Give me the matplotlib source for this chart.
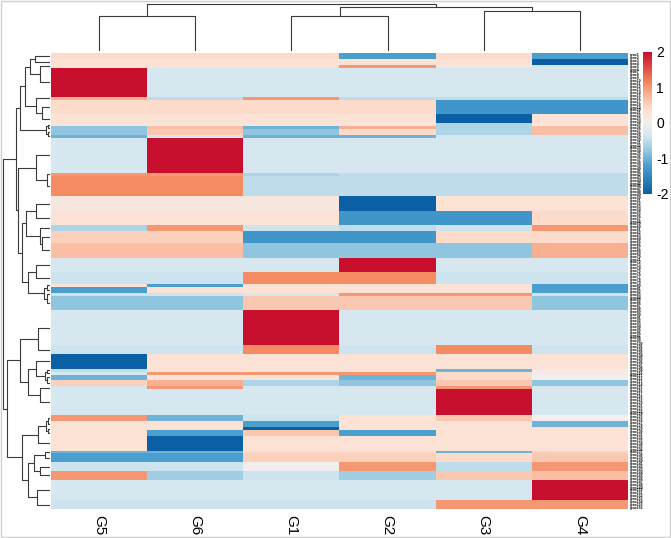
import numpy as np
import matplotlib
matplotlib.use("Agg")
import matplotlib.pyplot as plt
from matplotlib.colors import LinearSegmentedColormap
from matplotlib.patches import Rectangle

plt.rcParams["font.family"] = ["Liberation Sans", "DejaVu Sans"]
plt.rcParams["axes.unicode_minus"] = False

# -------------------------
# data (row blocks of identical scaled values, top to bottom)
# -------------------------
columns = ["G5", "G6", "G1", "G2", "G3", "G4"]

block_rows = [2, 2, 1, 10, 1, 5, 3, 1, 1, 2, 1, 12, 1, 7, 5, 5, 2, 4, 5, 5, 4, 1, 2,
              1, 5, 12, 3, 5, 1, 1, 2, 2, 1, 9, 2, 2, 1, 2, 5, 1, 3, 3, 3, 7, 3]

g5 = [0.4, 0.3, 0.3, 2.0, 0.8, 0.4, 0.3, 0.2, -0.8, -0.8, -1.0, -0.3, 1.0, 1.1, 0.2,
      0.3, -0.6, 0.5, 0.7, -0.3, -0.4, 0.3, -1.2, -0.4, -0.8, -0.3, -0.4, -2.0, -0.5,
      -0.3, -1.0, 0.5, -0.3, -0.3, 1.0, 0.3, 0.3, 0.3, 0.3, -1.0, -1.2, -0.4, 1.0, -0.3, -0.4]
g6 = [0.4, 0.3, 0.3, -0.3, -0.5, 0.4, 0.3, 0.2, 0.7, 0.6, -0.3, 2.0, 1.0, 1.1, 0.2,
      0.3, 1.0, 0.5, 0.7, -0.3, -0.4, -1.2, 0.3, -0.4, -0.8, -0.3, -0.4, 0.3, 0.3,
      1.0, 0.3, 0.8, 1.0, -0.3, -1.0, 0.3, 0.3, -1.2, -2.0, -1.0, -1.2, -0.4, -0.7, -0.3, -0.4]
g1 = [0.4, 0.3, 0.3, -0.3, 1.0, 0.4, 0.3, 0.2, -1.0, -0.8, -1.0, -0.3, -0.6, -0.5, 0.2,
      0.3, -0.4, -1.3, -0.8, -0.3, 1.1, 0.3, 0.3, -0.3, 0.6, 2.0, 1.1, 0.3, 0.3,
      1.0, 0.3, -0.6, -0.3, -0.3, -0.4, -1.2, -2.0, 0.6, 0.3, 0.4, 0.5, 0.0, -0.4, -0.3, -0.4]
g2 = [-1.2, 0.3, 1.0, -0.3, -0.5, 0.4, 0.3, 0.2, 0.8, 0.4, -1.0, -0.3, -0.5, -0.5, -2.0,
      -1.3, -0.5, -1.3, -0.8, 2.0, 1.1, 0.3, 0.3, 1.0, 0.6, -0.3, -0.4, 0.3, 0.3,
      1.0, -1.0, -0.8, -0.3, -0.3, 0.3, 0.3, 0.3, -1.2, 0.3, 0.4, 0.5, 1.0, -0.7, -0.3, -0.4]
g3 = [0.4, 0.3, 0.2, -0.3, -0.5, -1.3, -2.0, -0.6, -0.6, -0.6, -0.3, -0.3, -0.5, -0.5, 0.3,
      -1.3, -0.4, 0.4, -0.8, -0.3, -0.4, 0.3, 0.3, 1.0, 0.6, -0.3, 1.1, 0.3, -1.0,
      0.4, 0.4, 0.6, 1.0, 2.0, 0.6, 0.3, 0.3, 0.3, 0.3, -1.0, 0.4, -0.5, 0.6, -0.3, 1.0]
g4 = [-1.2, -2.0, -0.3, -0.3, -0.5, -1.3, 0.3, 0.3, 0.7, 0.7, -0.3, -0.3, -0.5, -0.5, 0.3,
      0.4, 1.0, 0.4, 0.8, -0.3, -0.4, -1.2, -1.2, -0.4, -0.8, -0.3, -0.4, 0.3, 0.1,
      0.1, 0.0, -0.8, -0.3, -0.3, 0.0, -1.0, 0.3, 0.3, 0.3, 0.5, 0.6, 1.0, 0.7, 2.0, 1.0]

# column tree: (height, left, right), leaves are column indices
col_tree = (0.98, (0.72, 0, 1), (0.92, (0.72, 2, 3), (0.84, 4, 5)))

# row tree over the blocks (0-based), heights in distance units
top_a = (30, (25, (20, (15, 0, 1), (10, 2, 3)), (14, 4, (8, 5, 6))),
         (4, (2, 7, 8), (2, 9, 10)))
top_b = (32, (14, 11, (3, 12, 13)),
         (28, (24, (14, 14, 15), (10, 16, (8, 17, 18))),
          (22, (14, 19, 20), (6, (3, 21, 22), (3, 23, 24)))))
bot_a = (30, (12, 25, 26), (22, (14, 27, (5, (3, 28, 29), (3, 30, 31))), (10, 32, 33)))
bot_b = (28, (12, (4, (2, 34, 35), (2, 36, 37)), 38),
         (22, (16, (5, 39, 40), (10, 41, 42)), (13, 43, 44)))
row_tree = (47, (34, top_a, top_b), (43, bot_a, bot_b))


def draw_tree(ax, node, leaf_pos, vertical):
    if isinstance(node, int):
        return leaf_pos[node], 0.0
    h, left, right = node
    c1, h1 = draw_tree(ax, left, leaf_pos, vertical)
    c2, h2 = draw_tree(ax, right, leaf_pos, vertical)
    pos = [c1, c1, c2, c2]
    hts = [h1, h, h, h2]
    if vertical:
        ax.plot(pos, hts, color="#3a3a3a", lw=0.8, solid_capstyle="butt")
    else:
        ax.plot(hts, pos, color="#3a3a3a", lw=0.8, solid_capstyle="butt")
    return (c1 + c2) / 2, h


def main():
    values = np.column_stack([np.repeat(v, block_rows) for v in (g5, g6, g1, g2, g3, g4)])
    n_rows = values.shape[0]

    cmap = LinearSegmentedColormap.from_list(
        "hm",
        [(0.0, "#0b5fa5"), (0.2, "#4a9fcf"), (0.3, "#92c6e0"), (0.41, "#d3e6f0"),
         (0.5, "#f2efee"), (0.59, "#fde0d0"), (0.675, "#f9bea4"), (0.775, "#f58c64"),
         (1.0, "#c8102e")])

    W, H = 671, 538
    fig = plt.figure(figsize=(W / 100, H / 100), dpi=100)

    def px_axes(x0, y0, x1, y1):
        return fig.add_axes([x0 / W, 1 - y1 / H, (x1 - x0) / W, (y1 - y0) / H])

    # heatmap
    ax = px_axes(51, 53, 628, 509)
    im = ax.imshow(values, cmap=cmap, vmin=-2, vmax=2, aspect="auto",
                   interpolation="nearest", extent=(0, 6, n_rows, 0))
    ax.set_xticks(np.arange(6) + 0.5)
    ax.set_xticklabels(columns, rotation=270, fontsize=11)
    ax.set_yticks(np.arange(n_rows) + 0.5)
    ax.set_yticklabels([f"gene{i + 1}" for i in range(n_rows)], fontsize=2.4,
                       fontweight="bold")
    ax.yaxis.tick_right()
    ax.tick_params(axis="x", length=0, pad=4)
    ax.tick_params(axis="y", length=0, pad=1.5)
    for s in ax.spines.values():
        s.set_visible(False)

    # column dendrogram
    axt = px_axes(51, 3, 628, 51)
    draw_tree(axt, col_tree, np.arange(6) + 0.5, True)
    axt.set_xlim(0, 6)
    axt.set_ylim(0, 1.0)
    axt.axis("off")

    # row dendrogram
    starts = np.concatenate([[0], np.cumsum(block_rows)[:-1]])
    centers = starts + np.array(block_rows) / 2
    axl = px_axes(2, 53, 50, 509)
    draw_tree(axl, row_tree, centers, False)
    axl.set_xlim(48, 0)
    axl.set_ylim(n_rows, 0)
    axl.axis("off")

    # colorbar
    cax = px_axes(643, 52, 652, 194)
    cb = fig.colorbar(im, cax=cax, ticks=[-2, -1, 0, 1, 2])
    cb.outline.set_visible(False)
    cb.ax.tick_params(length=0, labelsize=10, pad=3)

    fig.patches.append(Rectangle((0.001, 0.001), 0.998, 0.998, transform=fig.transFigure,
                                 fill=False, edgecolor="#d0d0d0", lw=1))

    fig.savefig("out.png", dpi=100)
    plt.close(fig)


if __name__ == "__main__":
    main()
